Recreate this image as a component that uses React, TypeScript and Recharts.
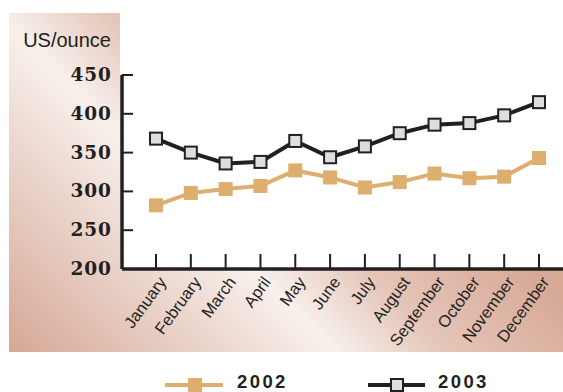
import React from "react";
import { LineChart, Line, XAxis, YAxis } from "recharts";

const MONTHS = [
  "January",
  "February",
  "March",
  "April",
  "May",
  "June",
  "July",
  "August",
  "September",
  "October",
  "November",
  "December",
];
const PRICE_2002 = [282, 298, 303, 307, 327, 318, 305, 312, 323, 317, 319, 343];
const PRICE_2003 = [368, 350, 336, 338, 365, 344, 358, 375, 386, 388, 398, 415];
const Y_TICKS = [200, 250, 300, 350, 400, 450];
const SERIES_NAMES = ["2002", "2003"];

const INK = "#231f20";
const GOLD = "#deae6e";
const GREY = "#dcdedf";
const SANS = "'Liberation Sans', Arial, sans-serif";

const data = MONTHS.map((month, i) => ({
  month,
  y2002: PRICE_2002[i],
  y2003: PRICE_2003[i],
}));

// value ticks: short inward tick + bold serif label
function PriceTick({ x, y, payload }: any) {
  return (
    <g>
      <line x1={x} y1={y} x2={x + 11} y2={y} stroke={INK} strokeWidth={2} />
      <text
        x={x - 10}
        y={y}
        dy={6}
        textAnchor="end"
        fontFamily="'DejaVu Serif', serif"
        fontWeight="bold"
        fontSize={18.5}
        letterSpacing={1}
        fill={INK}
      >
        {payload.value}
      </text>
    </g>
  );
}

// month ticks: upward tick + slanted label
function MonthTick({ x, y, payload }: any) {
  return (
    <g>
      <line x1={x} y1={y} x2={x} y2={y - 15} stroke={INK} strokeWidth={2} />
      <text
        transform={`translate(${x + 11},${y + 13}) rotate(-54)`}
        textAnchor="end"
        fontFamily={SANS}
        fontSize={16.5}
        fill={INK}
      >
        {payload.value}
      </text>
    </g>
  );
}

function GoldSquare({ cx, cy, index }: any) {
  return <rect key={`g-${index}`} x={cx - 7} y={cy - 7} width={14} height={14} fill={GOLD} />;
}

function GreySquare({ cx, cy, index }: any) {
  return (
    <rect
      key={`k-${index}`}
      x={cx - 6}
      y={cy - 6}
      width={12}
      height={12}
      fill={GREY}
      stroke={INK}
      strokeWidth={2}
    />
  );
}

function Backdrop() {
  return (
    <svg width={563} height={392} style={{ position: "absolute", left: 0, top: 0 }}>
      <defs>
        <linearGradient id="panel" gradientUnits="userSpaceOnUse" x1={0} y1={350} x2={450} y2={-100}>
          <stop offset="0" stopColor="#d4a694" />
          <stop offset="0.372" stopColor="#f8f0ec" />
          <stop offset="0.5" stopColor="#e4c4b7" />
          <stop offset="0.68" stopColor="#d7a997" />
          <stop offset="1" stopColor="#d3a38f" />
        </linearGradient>
      </defs>
      <rect x={9} y={13} width={554} height={339} fill="url(#panel)" />
      <rect x={120} y={0} width={443} height={268} fill="#ffffff" />
      <text x={111} y={47} textAnchor="end" fontFamily={SANS} fontSize={20} fill={INK}>
        US/ounce
      </text>

      {/* legend */}
      <line x1={165} y1={385} x2={223} y2={385} stroke={GOLD} strokeWidth={4} />
      <rect x={188} y={378} width={14} height={14} fill={GOLD} />
      <text
        x={237}
        y={388}
        fontFamily={SANS}
        fontWeight="bold"
        fontSize={18.5}
        letterSpacing={2.4}
        fill={INK}
      >
        {SERIES_NAMES[0]}
      </text>
      <line x1={368} y1={385} x2={425} y2={385} stroke={INK} strokeWidth={4} />
      <rect x={391} y={379} width={12} height={12} fill={GREY} stroke={INK} strokeWidth={2} />
      <text
        x={438}
        y={388}
        fontFamily={SANS}
        fontWeight="bold"
        fontSize={18.5}
        letterSpacing={2.4}
        fill={INK}
      >
        {SERIES_NAMES[1]}
      </text>
    </svg>
  );
}

export default function App() {
  return (
    <div style={{ position: "absolute", left: 0, top: 0, width: 563, height: 392, background: "#fff" }}>
      <Backdrop />
      <div style={{ position: "absolute", left: 0, top: 0 }}>
        <LineChart
          width={563}
          height={392}
          data={data}
          margin={{ top: 75, right: 0, bottom: 0, left: 0 }}
        >
          <XAxis
            dataKey="month"
            scale="point"
            padding={{ left: 34, right: 24 }}
            interval={0}
            height={123}
            tickSize={0}
            tickMargin={0}
            tickLine={false}
            axisLine={{ stroke: INK, strokeWidth: 3.5 }}
            tick={<MonthTick />}
          />
          <YAxis
            type="number"
            domain={[200, 450]}
            ticks={Y_TICKS}
            width={122}
            tickSize={0}
            tickMargin={0}
            tickLine={false}
            axisLine={{ stroke: INK, strokeWidth: 3.5 }}
            tick={<PriceTick />}
          />
          <Line
            dataKey="y2002"
            stroke={GOLD}
            strokeWidth={4}
            dot={GoldSquare}
            activeDot={false}
            isAnimationActive={false}
          />
          <Line
            dataKey="y2003"
            stroke={INK}
            strokeWidth={4}
            dot={GreySquare}
            activeDot={false}
            isAnimationActive={false}
          />
        </LineChart>
      </div>
    </div>
  );
}
